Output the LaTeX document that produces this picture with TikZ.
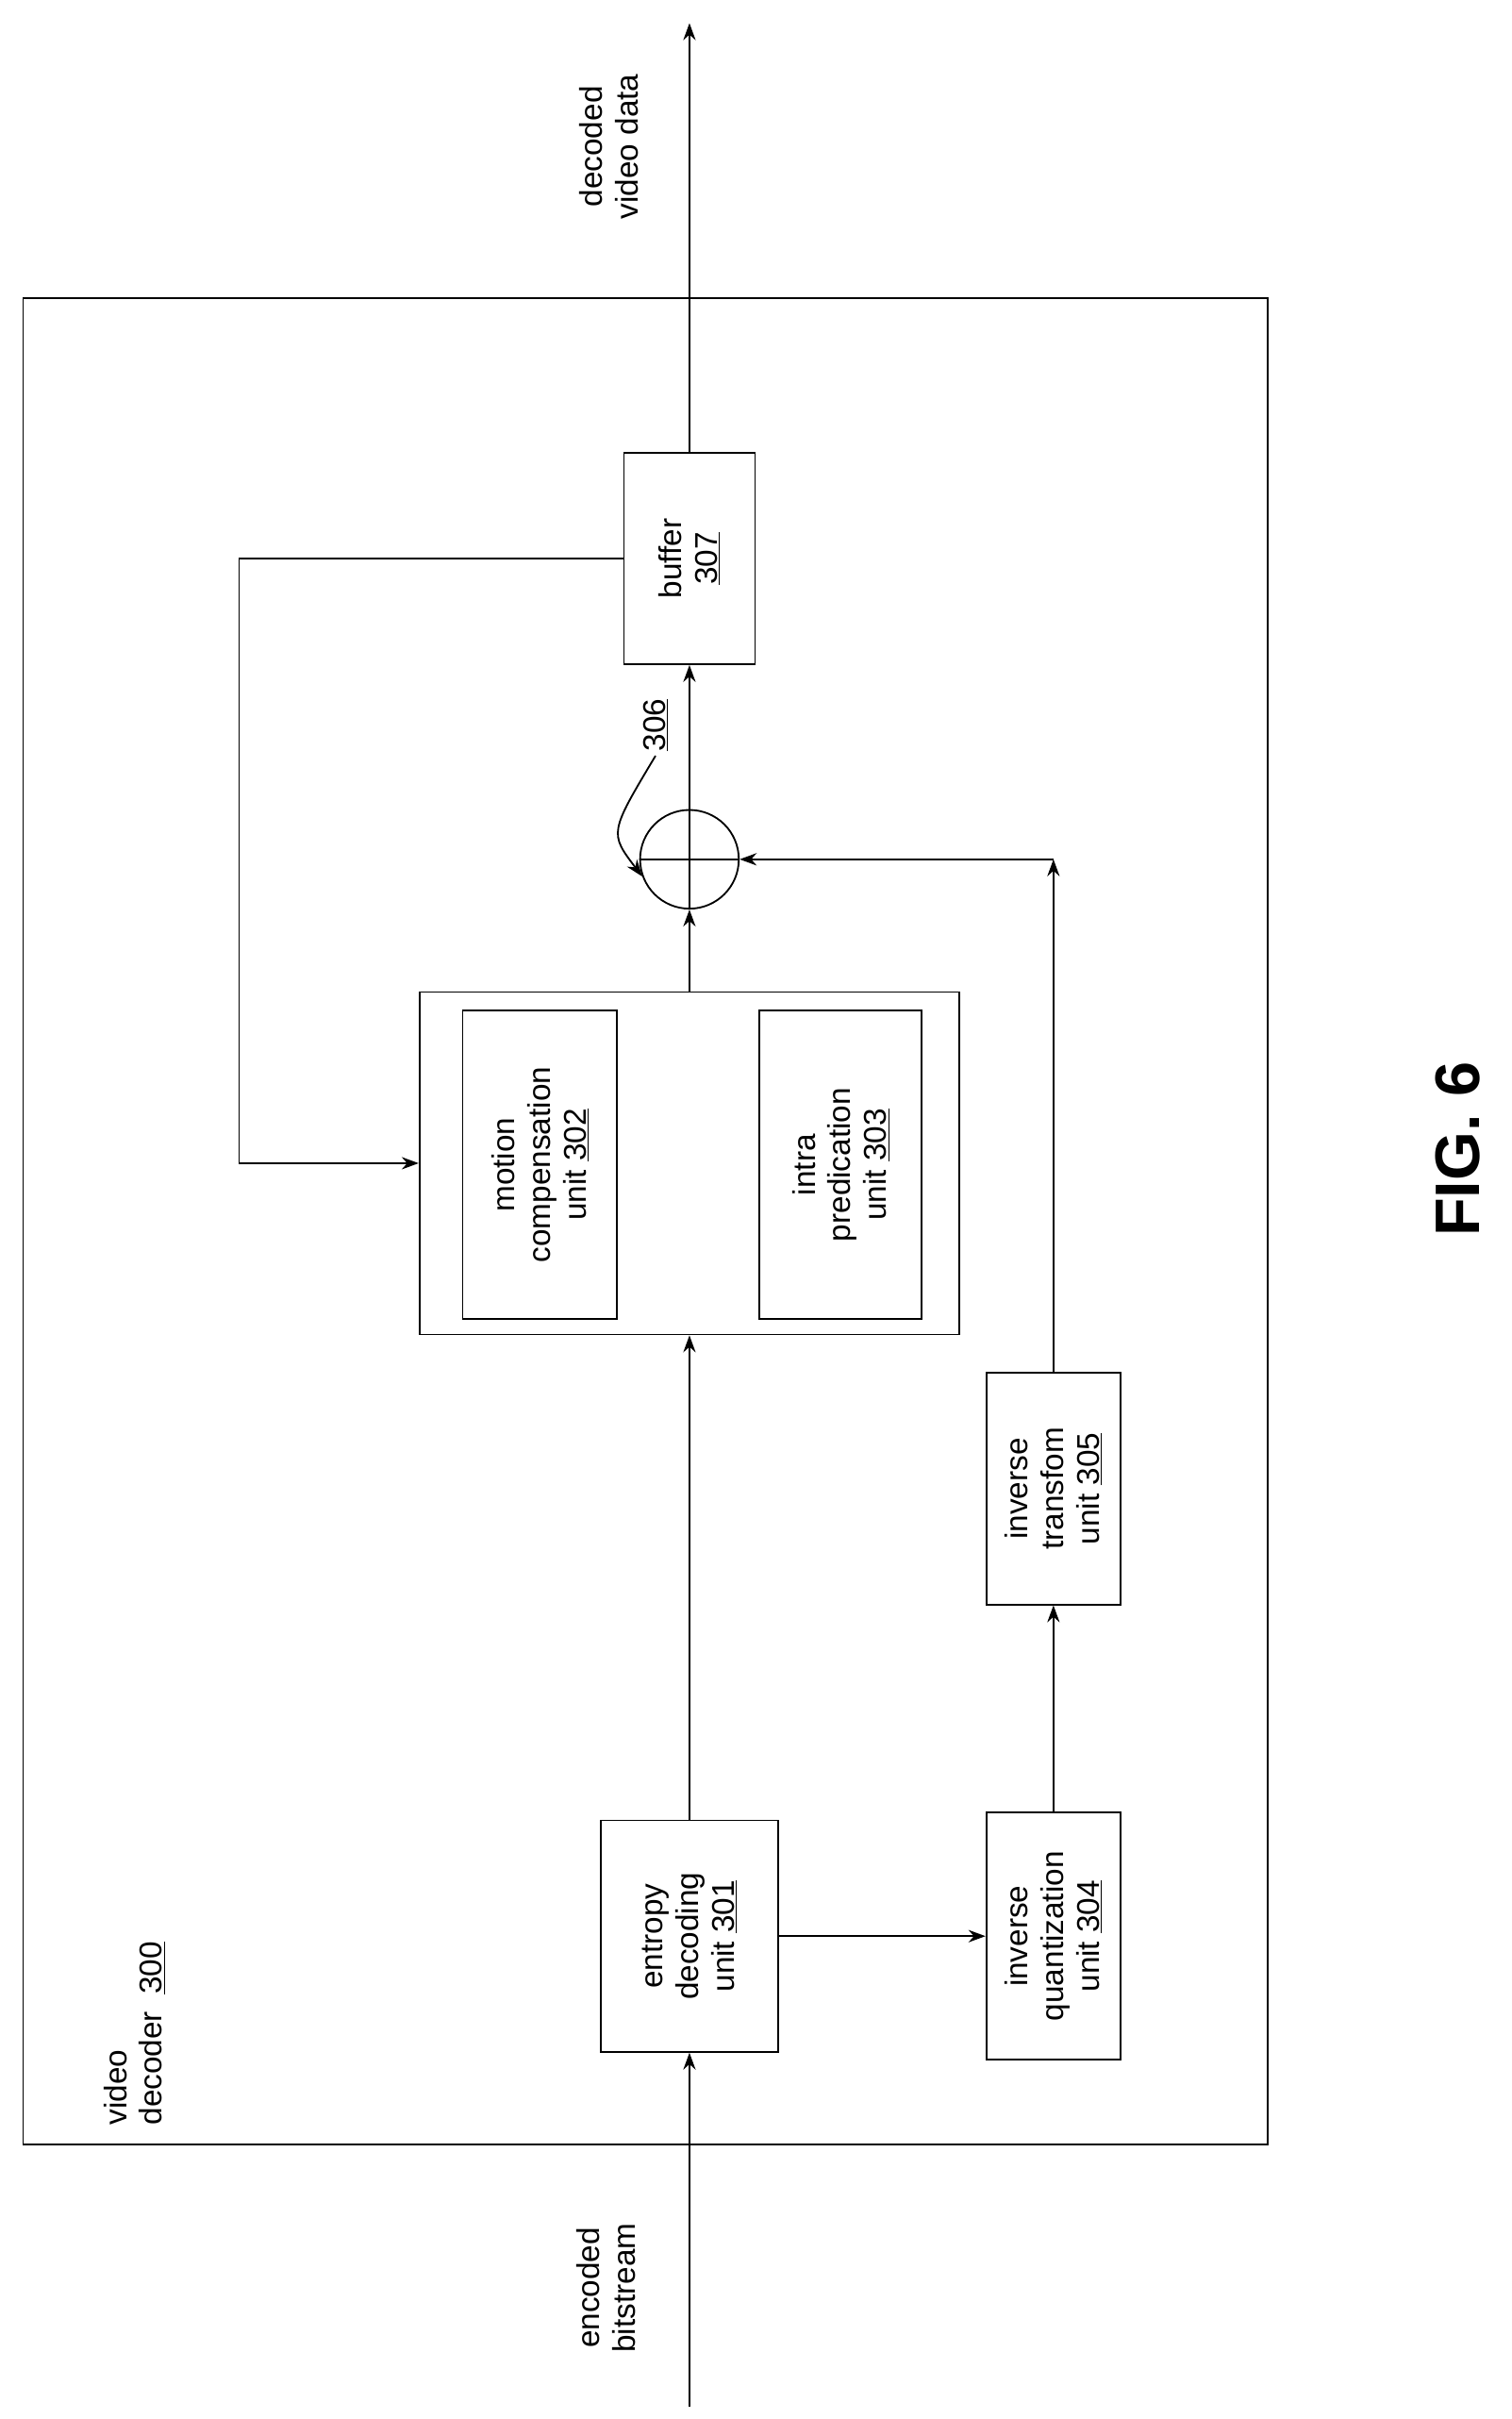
\documentclass[tikz,border=0pt]{standalone}
\usepackage{fontspec}
\setmainfont{Liberation Sans}
\usetikzlibrary{arrows.meta}
\begin{document}
\begin{tikzpicture}[x=0.05cm, y=-0.05cm, line width=1.6pt, >={Stealth[length=0.55cm,width=0.4cm]},
  blk/.style={draw, rotate=90, align=center, inner sep=0pt, font=\fontsize{29}{33}\selectfont},
  lbl/.style={rotate=90, align=center, font=\fontsize{29}{33}\selectfont}]
  \useasboundingbox (0,0) rectangle (980,1568);

  % outer frame
  \draw (15,193) rectangle (822,1390);
  \node (dec) [lbl, align=left] at (87,1318) {video\\decoder \ \underline{300}};

  % units
  \node (ent) [blk, minimum width=7.5cm, minimum height=5.75cm] at (447,1255) {entropy\\decoding\\unit \underline{301}};
  \node (iq) [blk, minimum width=8cm, minimum height=4.35cm] at (683,1255) {inverse\\quantization\\unit \underline{304}};
  \node (it) [blk, minimum width=7.5cm, minimum height=4.35cm] at (683,965) {inverse\\transfom\\unit \underline{305}};
  \node (pred) [draw, rotate=90, minimum width=11.1cm, minimum height=17.5cm] at (447,754) {};
  \node (mc) [blk, minimum width=10cm, minimum height=5cm] at (350,755) {motion\\compensation\\unit \underline{302}};
  \node (ip) [blk, minimum width=10cm, minimum height=5.25cm] at (545,755) {intra\\predication\\unit \underline{303}};
  \node (add) [draw, circle, minimum size=3.2cm] at (447,557) {};
  \draw (add.north) -- (add.south) (add.west) -- (add.east);
  \node (buf) [blk, minimum width=6.85cm, minimum height=4.25cm] at (447,362) {buffer\\\underline{307}};
  \node (num) [lbl] at (425,470) {\underline{306}};

  % labels outside
  \node (inp) [lbl] at (393,1483) {encoded\\bitstream};
  \node (outp) [lbl] at (395,95) {decoded\\video data};
  \node (fig) [rotate=90, font=\fontsize{58}{60}\selectfont\bfseries] at (945,745) {FIG. 6};

  \coordinate (src) at (447,1560);
  \coordinate (dst) at (447,15);
  \coordinate (fb) at (155,754);
  \coordinate (cor) at (683,557);

  % connections
  \draw[->] (src) -- (ent.west);
  \draw[->] (ent.east) -- (ent.east |- pred.west);
  \draw[->] (ent.south |- iq.center) -- (iq.north);
  \draw[->] (iq.east) -- (it.west);
  \draw[->] (it.east) -- (cor);
  \draw[->] (cor) -- (add.east);
  \draw[->] (pred.east) -- (add.south);
  \draw[->] (add.north) -- (buf.west);
  \draw[->] (buf.east) -- (dst);
  \draw[->] (buf.north) -| (fb) -- (pred.north);
  \draw[->] (num.west) .. controls (395,540) .. (add.200);
\end{tikzpicture}
\end{document}
